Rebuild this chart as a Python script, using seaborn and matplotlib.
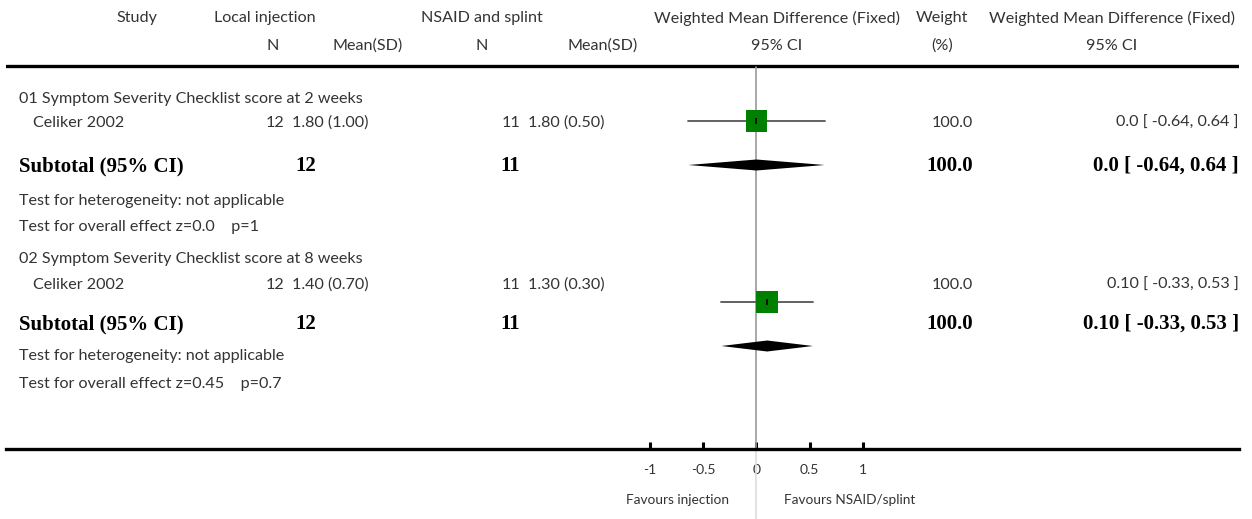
import matplotlib
matplotlib.use('Agg')
import matplotlib.pyplot as plt
import seaborn as sns
import numpy as np
import pandas as pd

# data
groups = ["01 Symptom Severity Checklist score at 2 weeks",
          "02 Symptom Severity Checklist score at 8 weeks"]
studies = ["Celiker 2002", "Celiker 2002"]
n_inj = [12, 12]
mean_inj = [1.80, 1.40]
sd_inj = [1.00, 0.70]
n_nsaid = [11, 11]
mean_nsaid = [1.80, 1.30]
sd_nsaid = [0.50, 0.30]
wmd = [0.0, 0.10]
wmd_txt = ["0.0", "0.10"]
ci_lo = [-0.64, -0.33]
ci_hi = [0.64, 0.53]
weight = [100.0, 100.0]
z_txt = ["0.0", "0.45"]
p_txt = ["1", "0.7"]
xticks = [-1, -0.5, 0, 0.5, 1]
xtick_labels = ["-1", "-0.5", "0", "0.5", "1"]

df = pd.DataFrame({"study": studies, "wmd": wmd, "lo": ci_lo, "hi": ci_hi})

sns.set_theme(style="white")
plt.rcParams['font.family'] = ['Lato', 'DejaVu Sans']

W, H = 1252, 519
fig = plt.figure(figsize=(W / 100, H / 100), dpi=100)
ax = fig.add_axes([6 / W, 70 / H, 1233 / W, 449 / H])

PXU = 106.5   # pixels per unit on the effect scale
X0 = 756.5    # pixel of zero


def px(p):
    return (p - X0) / PXU


ax.set_xlim(px(6), px(1239))
ax.set_ylim(449, 0)

TC = '#333333'
FS = 11.6
BF = dict(family=['Liberation Serif', 'DejaVu Serif'], fontweight='bold', fontsize=15, color='black')

def t(x, y, s, ha='left', **kw):
    opts = dict(fontsize=FS, color=TC, va='center', ha=ha, clip_on=False)
    opts.update(kw)
    ax.text(px(x), y, s, **opts)

# header
t(137, 18, "Study", ha='center')
t(265, 18, "Local injection", ha='center')
t(482, 18, "NSAID and splint", ha='center')
t(777, 18, "Weighted Mean Difference (Fixed)", ha='center')
t(942, 18, "Weight", ha='center')
t(1112, 18, "Weighted Mean Difference (Fixed)", ha='center')
t(273, 46, "N", ha='center')
t(403, 46, "Mean(SD)", ha='right')
t(482, 46, "N", ha='center')
t(638, 46, "Mean(SD)", ha='right')
t(777, 46, "95% CI", ha='center')
t(942, 46, "(%)", ha='center')
t(1112, 46, "95% CI", ha='center')
ax.axhline(66, color='black', lw=2.4)

# rows: text y, marker y, subtotal text y, diamond y, het y, overall y, title y
text_y = [123, 285]
mark_y = [121, 302]
sub_y = [166, 324]
dia_y = [165, 346]
title_y = [99, 259]
het_y = [201, 356]
ov_y = [227, 384]

for i in range(len(groups)):
    t(19, title_y[i], groups[i])
    t(33, text_y[i], studies[i])
    t(284, text_y[i], str(n_inj[i]), ha='right')
    t(292, text_y[i], f"{mean_inj[i]:.2f} ({sd_inj[i]:.2f})")
    t(520, text_y[i], str(n_nsaid[i]), ha='right')
    t(528, text_y[i], f"{mean_nsaid[i]:.2f} ({sd_nsaid[i]:.2f})")
    t(973, text_y[i], f"{weight[i]:.1f}", ha='right')
    t(1239, text_y[i], f"{wmd_txt[i]} [ {ci_lo[i]:.2f}, {ci_hi[i]:.2f} ]", ha='right')

    t(19, sub_y[i], "Subtotal (95% CI)", **BF)
    t(316, sub_y[i], str(n_inj[i]), ha='right', **BF)
    t(520, sub_y[i], str(n_nsaid[i]), ha='right', **BF)
    t(973, sub_y[i], f"{weight[i]:.1f}", ha='right', **BF)
    t(1239, sub_y[i], f"{wmd_txt[i]} [ {ci_lo[i]:.2f}, {ci_hi[i]:.2f} ]", ha='right', **BF)
    t(19, het_y[i], "Test for heterogeneity: not applicable")
    t(19, ov_y[i], f"Test for overall effect z={z_txt[i]}    p={p_txt[i]}")

    # CI line, square, diamond
    ax.plot([df.lo[i], df.hi[i]], [mark_y[i], mark_y[i]], color='#555555', lw=1.3, zorder=3)
    ax.fill([df.lo[i], df.wmd[i], df.hi[i], df.wmd[i]],
            [dia_y[i], dia_y[i] - 5.5, dia_y[i], dia_y[i] + 5.5],
            color='black', lw=0, zorder=3)

df["y"] = mark_y
sns.scatterplot(data=df, x="wmd", y="y", marker='s', s=250, color='#008000',
                edgecolor='none', linewidth=0, zorder=4, ax=ax, legend=False)
sns.scatterplot(data=df, x="wmd", y="y", marker='|', s=20, color='black',
                linewidth=1.2, zorder=5, ax=ax, legend=False)

# zero line
ax.plot([0, 0], [67, 449], color='#9a9a9a', lw=1.2, zorder=2)
ax.plot([0, 0], [449, 519], color='#dddddd', lw=1.2, clip_on=False, zorder=2)

# axis
for s in ['top', 'left', 'right']:
    ax.spines[s].set_visible(False)
ax.spines['bottom'].set_linewidth(2.4)
ax.spines['bottom'].set_color('black')
ax.set_xticks(xticks)
ax.set_xticklabels(xtick_labels)
ax.tick_params(axis='x', direction='in', length=5, width=2.2, color='black',
               labelsize=10, labelcolor=TC, pad=11, bottom=True)
ax.set_yticks([])
ax.set_xlabel("")
ax.set_ylabel("")

t(729, 500, "Favours injection", ha='right', fontsize=9.8)
t(784, 500, "Favours NSAID/splint", fontsize=9.8)

fig.savefig("out.png", dpi=100)
plt.close()
